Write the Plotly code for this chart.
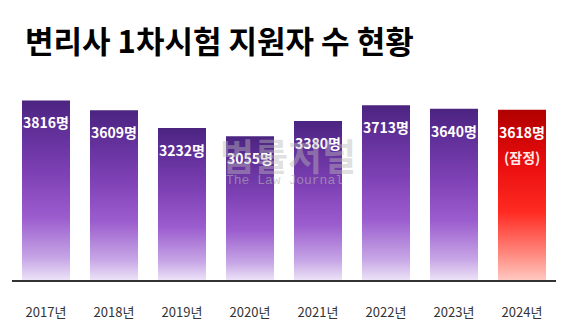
import plotly.graph_objects as go

# Applicants for the first-round patent attorney exam, by year
years = ["2017년", "2018년", "2019년", "2020년", "2021년", "2022년", "2023년", "2024년"]
applicants = [3816, 3609, 3232, 3055, 3380, 3713, 3640, 3618]
provisional = [False, False, False, False, False, False, False, True]

title_text = "변리사 1차시험 지원자 수 현황"
unit = "명"
provisional_note = "(잠정)"

FONT = "Noto Sans CJK KR"
HALF_W = 0.353  # half bar width, in category units

purple_scale = [
    [0.0, "#ece2f7"],
    [0.12, "#c7a6e6"],
    [0.35, "#9b5cce"],
    [0.6, "#7d40b4"],
    [0.85, "#5e2e96"],
    [1.0, "#4b2480"],
]
red_scale = [
    [0.0, "#ffc8c0"],
    [0.15, "#ff8a80"],
    [0.4, "#ff2a22"],
    [0.7, "#e80c0c"],
    [1.0, "#b00000"],
]

fig = go.Figure()

for i, (v, prov) in enumerate(zip(applicants, provisional)):
    xs = [i - HALF_W, i + HALF_W, i + HALF_W, i - HALF_W, i - HALF_W]
    ys = [0, 0, v, v, 0]
    fig.add_trace(go.Scatter(
        x=xs, y=ys, mode="lines", fill="toself",
        line=dict(width=0, color="rgba(0,0,0,0)"),
        fillgradient=dict(type="vertical",
                          colorscale=red_scale if prov else purple_scale),
        hoverinfo="skip", showlegend=False,
    ))
    fig.add_annotation(
        x=i, y=v, yshift=-22, text=f"{v}{unit}", showarrow=False,
        font=dict(family=FONT, size=14, color="white", weight="bold"),
        xanchor="center", yanchor="middle",
    )
    if prov:
        fig.add_annotation(
            x=i, y=v, yshift=-47, text=provisional_note, showarrow=False,
            font=dict(family=FONT, size=14, color="#ffe8e8", weight="bold"),
            xanchor="center", yanchor="middle",
        )

# Publisher watermark
fig.add_annotation(
    xref="paper", yref="paper", x=0.507, y=(284 - 156) / 204,
    text="법률저널", showarrow=False,
    font=dict(family=FONT, size=37, color="rgba(185,185,185,0.45)", weight="bold"),
    xanchor="center", yanchor="middle",
)
fig.add_annotation(
    xref="paper", yref="paper", x=0.5, y=(284 - 183) / 204,
    text="The Law Journal", showarrow=False,
    font=dict(family="Liberation Mono", size=13, color="rgba(180,180,180,0.6)"),
    xanchor="center", yanchor="middle",
)

fig.update_layout(
    width=568, height=333,
    margin=dict(l=12, r=12, t=80, b=49),
    paper_bgcolor="white", plot_bgcolor="white",
    title=dict(
        text=title_text, xref="container", yref="container",
        x=25 / 568, xanchor="left", y=1 - 42 / 333, yanchor="middle",
        font=dict(family=FONT, size=31, color="black", weight="bold"),
    ),
    xaxis=dict(
        range=[-0.5, len(years) - 0.5],
        tickmode="array", tickvals=list(range(len(years))), ticktext=years,
        showgrid=False, zeroline=False,
        showline=True, linecolor="#333333", linewidth=2,
        ticks="", ticklabelstandoff=19,
        tickfont=dict(family=FONT, size=13, color="#333333"),
        fixedrange=True,
    ),
    yaxis=dict(range=[0, 4250], visible=False, showgrid=False, zeroline=False, fixedrange=True),
)

fig.write_html("out.html")
